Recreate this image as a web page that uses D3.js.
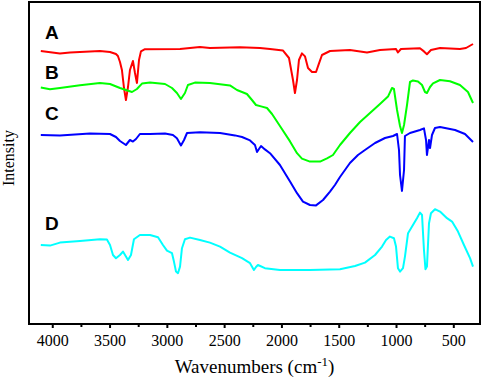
<!DOCTYPE html>
<html>
<head>
<meta charset="utf-8">
<script src="https://cdn.jsdelivr.net/npm/d3@7"></script>
<style>
    body { margin: 0; background: #fff; }
</style>
</head>
<body>
<div id="container"></div>
<script>
const W = 484
const H = 378

const frame = { left: 29, top: 2, right: 480, bottom: 324 }
const serif = "'Liberation Serif', 'Times New Roman', serif"

// spectra (cm-1 and arbitrary intensity units)
const waveA = [4100, 3933, 3845, 3584, 3496, 3444, 3427, 3409, 3392, 3374, 3357, 3339, 3322, 3296, 3278, 3261, 3243, 3226, 3191, 2885, 2711, 2624, 2362, 2187, 2100, 1986, 1934, 1899, 1882, 1864, 1847, 1821, 1794, 1768, 1733, 1698, 1672, 1646, 1576, 1402, 1253, 1140, 1000, 983, 957, 791, 756, 730, 695, 616, 442, 389, 328]
const intA = [136.5, 135.3, 135.8, 136.5, 136, 135, 134, 131, 127, 118, 112, 118.5, 127, 131.5, 125.5, 120.5, 132, 136.3, 137.4, 137.5, 138.5, 138, 138.4, 138, 137.5, 136.7, 133, 122, 115.5, 122, 132, 135.3, 133.8, 128, 126, 126, 130.3, 134.5, 136.5, 137, 135.8, 137, 137.5, 135.8, 137.5, 137.9, 136.3, 134.9, 137, 138, 137.5, 138, 140]

const waveB = [4100, 4020, 3933, 3758, 3584, 3496, 3409, 3357, 3304, 3261, 3217, 3147, 3016, 2955, 2912, 2877, 2842, 2816, 2755, 2624, 2449, 2388, 2344, 2301, 2257, 2222, 2170, 2126, 2082, 2013, 1925, 1864, 1821, 1751, 1663, 1602, 1550, 1489, 1402, 1314, 1227, 1140, 1070, 1035, 1018, 991, 965, 948, 930, 904, 878, 852, 808, 773, 747, 730, 703, 677, 616, 529, 442, 372, 328]
const intB = [118.2, 117.4, 118, 119.4, 120.5, 120, 118, 117, 116, 117.5, 120.2, 120.7, 120, 118, 115.5, 112.5, 115.5, 119.5, 120.7, 120.5, 119.3, 117, 116, 115, 112, 109.5, 108.7, 108, 105, 99, 91.3, 85.4, 82.7, 81.2, 81.2, 82.8, 84.5, 89.5, 95.5, 101, 105.5, 110, 113.7, 118, 117.5, 107, 99, 95.5, 99.5, 109.5, 121, 121.8, 121.3, 119.5, 116, 115.5, 118.5, 120.3, 122, 121.4, 119.5, 116, 110.5]

const waveC = [4100, 3933, 3671, 3496, 3444, 3409, 3357, 3322, 3296, 3269, 3235, 3147, 3016, 2947, 2912, 2877, 2850, 2824, 2711, 2536, 2405, 2344, 2274, 2231, 2213, 2196, 2178, 2144, 2100, 2013, 1925, 1864, 1812, 1751, 1698, 1637, 1576, 1533, 1489, 1402, 1332, 1271, 1183, 1096, 1026, 991, 974, 965, 948, 930, 922, 878, 791, 756, 738, 730, 712, 703, 686, 660, 616, 485, 398, 328]
const intC = [94.5, 94.3, 95.2, 95, 93.5, 91.5, 89.5, 92, 91.2, 92.5, 95, 95, 95.3, 94.5, 92.9, 89.3, 92, 95.5, 95.9, 95.5, 94.3, 93.5, 91.8, 89.5, 86, 87.5, 89, 87.3, 85.4, 79.5, 71.2, 65.4, 61.2, 59.5, 59.3, 62, 66.2, 69.5, 73.5, 80.5, 84.5, 87, 90.5, 93, 94, 95, 87, 74.5, 66.5, 77, 94, 95.5, 97, 97.8, 92, 84.5, 92, 88, 94.5, 98, 98.5, 97, 95, 91]

const waveD = [4100, 4020, 3933, 3758, 3584, 3523, 3496, 3470, 3444, 3409, 3383, 3357, 3339, 3313, 3287, 3235, 3147, 3077, 3034, 2999, 2955, 2938, 2920, 2903, 2885, 2868, 2842, 2798, 2711, 2624, 2536, 2449, 2344, 2274, 2240, 2222, 2205, 2144, 2013, 1751, 1489, 1358, 1271, 1183, 1122, 1087, 1053, 1018, 1000, 983, 965, 939, 922, 895, 860, 817, 791, 773, 756, 743, 730, 712, 695, 660, 616, 555, 511, 459, 407, 354, 328]
const intD = [39.5, 39.2, 40.7, 41.5, 42.4, 42.2, 39.5, 34.5, 32.9, 34.5, 36.2, 33.7, 32, 34.5, 42.4, 44.5, 44.5, 43.4, 39.5, 36.7, 35.4, 31.2, 26.2, 25.4, 28.7, 37.9, 42.4, 43.2, 42, 40.7, 38.7, 35.7, 32.9, 30.4, 27, 28.5, 29.5, 27.9, 27, 27, 27.4, 29, 30.7, 34.5, 38.7, 42, 43.7, 42.9, 38.7, 27.9, 26.2, 27.9, 33.7, 45.4, 48.7, 52.9, 55.7, 54.5, 37, 27.4, 28.7, 50.4, 55.4, 57.4, 56.2, 52.9, 51.2, 46.2, 39.5, 32.9, 28.7]

const seriesNames = ["A", "B", "C", "D"]
const seriesColors = ["#ff0000", "#00ff00", "#0000ff", "#00ffff"]
// label anchor for each spectrum (wavenumber, intensity)
const labelWave = [4064, 4064, 4064, 4064]
const labelInt = [142.5, 122.5, 102, 47]

const majorTicks = [4000, 3500, 3000, 2500, 2000, 1500, 1000, 500]
const minorTicks = [3750, 3250, 2750, 2250, 1750, 1250, 750]

const svg = d3.select("#container")
    .append("svg").attr("width", W).attr("height", H)
    .style("display", "block")

const x = d3.scaleLinear().domain([4203, 267]).range([frame.left, frame.right])
const y = d3.scaleLinear().domain([0, 161]).range([frame.bottom, frame.top])

const line = d3.line()
    .x(d => x(d[0]))
    .y(d => y(d[1]))

const spectra = [
    d3.zip(waveA, intA),
    d3.zip(waveB, intB),
    d3.zip(waveC, intC),
    d3.zip(waveD, intD),
]

spectra.forEach((pts, i) => {
    svg.append("path")
        .attr("d", line(pts))
        .attr("fill", "none")
        .attr("stroke", seriesColors[i])
        .attr("stroke-width", 2)
        .attr("stroke-linejoin", "round")
})

seriesNames.forEach((name, i) => {
    svg.append("text")
        .attr("x", x(labelWave[i]))
        .attr("y", y(labelInt[i]))
        .style("font-family", "Arial, 'Liberation Sans', sans-serif")
        .style("font-weight", "bold")
        .style("font-size", "19px")
        .text(name)
})

// axis ticks
const xAxis = d3.axisBottom(x)
    .tickValues(majorTicks)
    .tickSize(4)
    .tickPadding(7)
    .tickFormat(d3.format("d"))

const gx = svg.append("g")
    .attr("transform", `translate(0,${frame.bottom})`)
    .call(xAxis)
gx.select(".domain").remove()
gx.selectAll("line").attr("stroke", "#000").attr("stroke-width", 2)
gx.selectAll("text")
    .style("font-family", serif)
    .style("font-size", "16px")
    .attr("fill", "#000")

const gMinor = svg.append("g")
    .attr("transform", `translate(0,${frame.bottom})`)
    .call(d3.axisBottom(x).tickValues(minorTicks).tickSize(3).tickFormat(""))
gMinor.select(".domain").remove()
gMinor.selectAll("line").attr("stroke", "#000").attr("stroke-width", 2)

// frame
svg.append("rect")
    .attr("x", frame.left)
    .attr("y", frame.top)
    .attr("width", frame.right - frame.left)
    .attr("height", frame.bottom - frame.top)
    .attr("fill", "none")
    .attr("stroke", "#000")
    .attr("stroke-width", 2)

// axis titles
const title = svg.append("text")
    .attr("x", (frame.left + frame.right) / 2)
    .attr("y", 373)
    .attr("text-anchor", "middle")
    .style("font-family", serif)
    .style("font-size", "19px")
title.append("tspan").text("Wavenumbers (cm")
title.append("tspan").attr("dy", -7).style("font-size", "13px").text("-1")
title.append("tspan").attr("dy", 7).text(")")

svg.append("text")
    .attr("transform", "translate(14,158) rotate(-90)")
    .attr("text-anchor", "middle")
    .style("font-family", serif)
    .style("font-size", "16px")
    .text("Intensity")
</script>
</body>
</html>
